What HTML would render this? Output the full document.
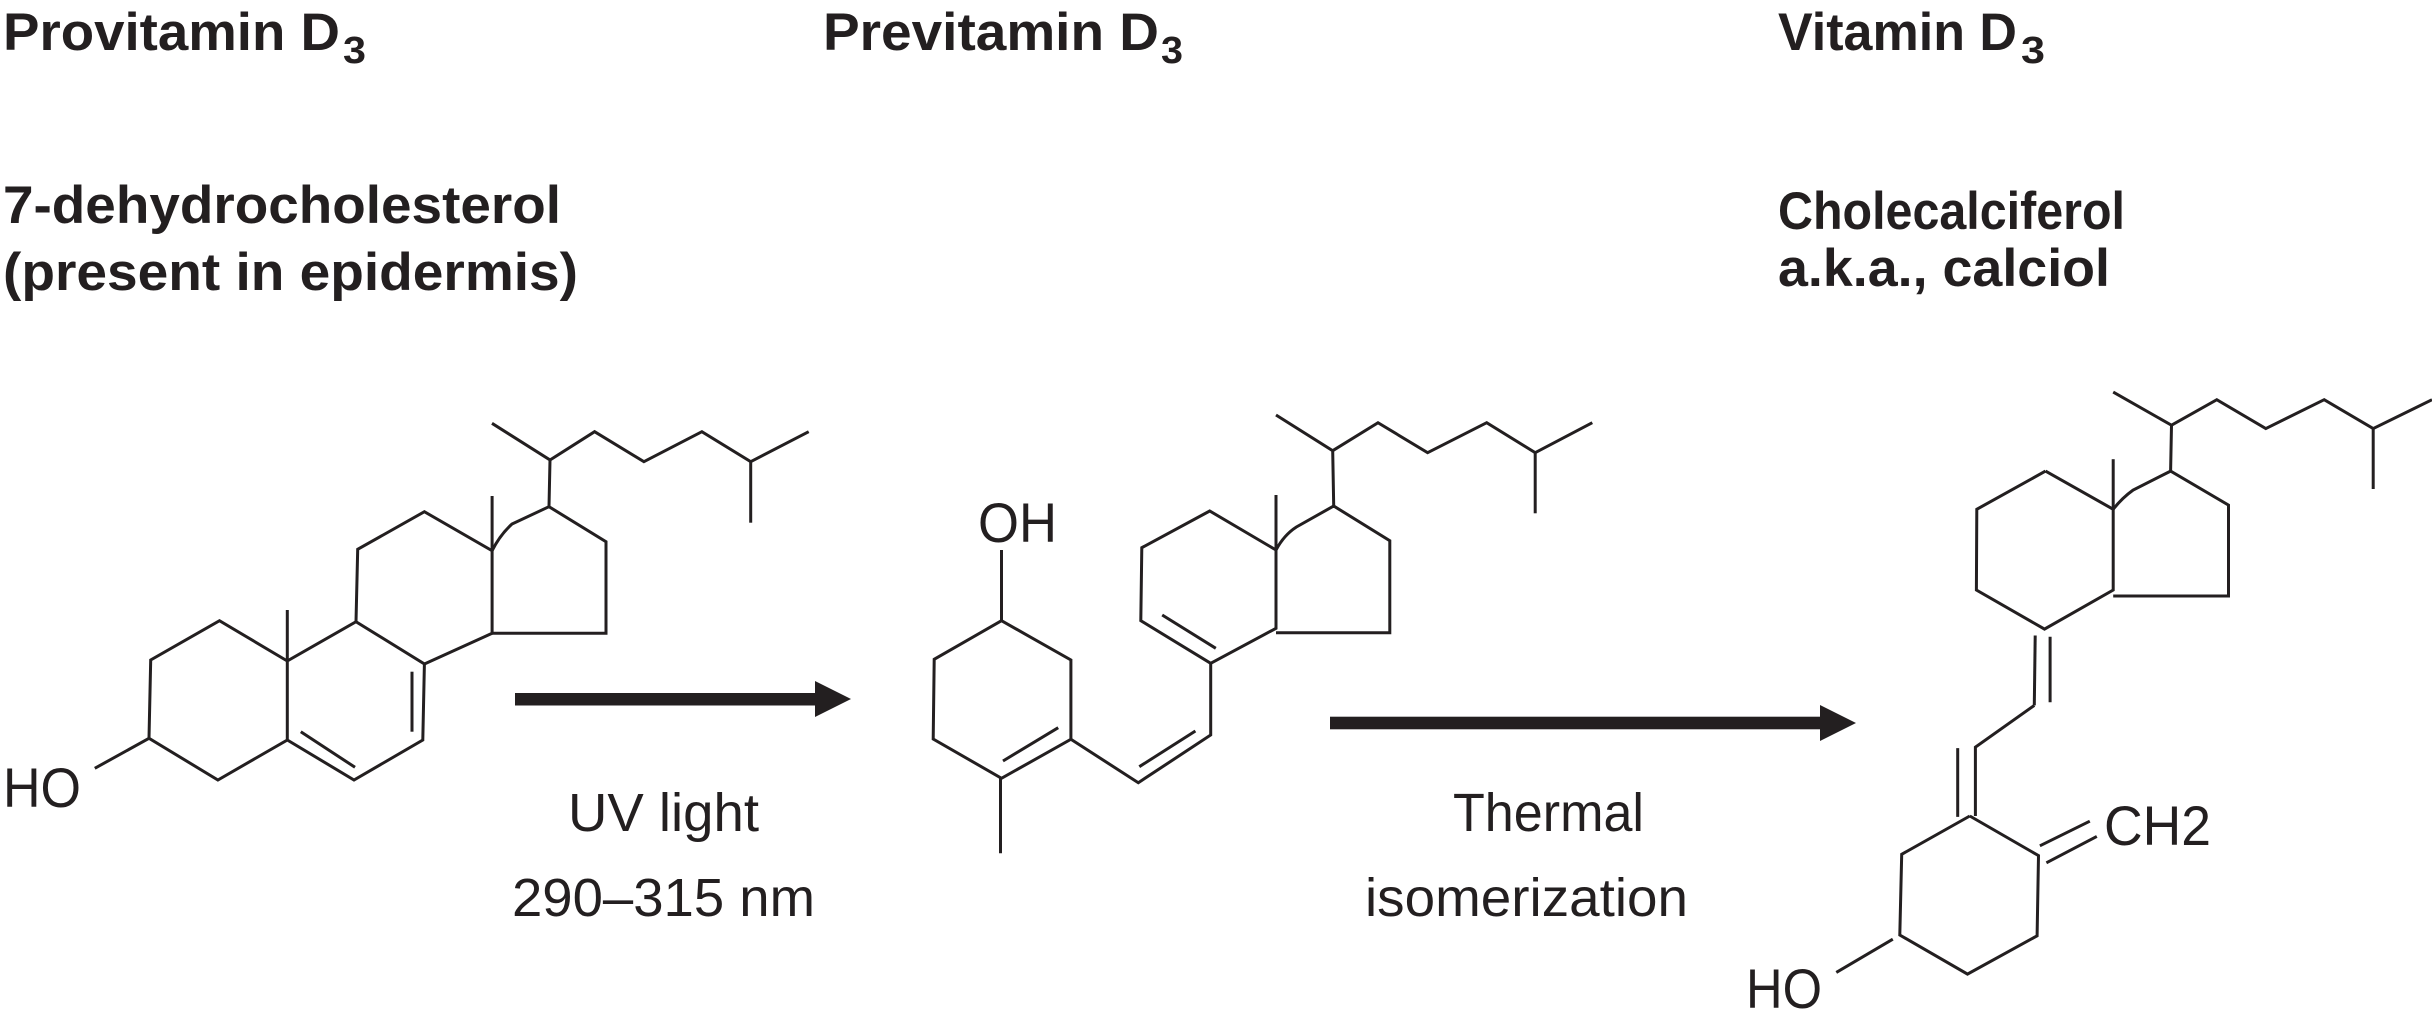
<!DOCTYPE html>
<html><head><meta charset="utf-8"><style>
html,body{margin:0;padding:0;background:#fff;}
svg{display:block;}
.b{font-family:"Liberation Sans",sans-serif;font-weight:bold;fill:#231f20;}
.r{font-family:"Liberation Sans",sans-serif;fill:#231f20;}
</style></head><body>
<svg width="2432" height="1035" viewBox="0 0 2432 1035" xmlns="http://www.w3.org/2000/svg">
<g class="b" font-size="53">
<text x="3" y="50" textLength="337" lengthAdjust="spacingAndGlyphs">Provitamin D</text>
<text x="343" y="63" font-size="38" textLength="23" lengthAdjust="spacingAndGlyphs">3</text>
<text x="823" y="50" textLength="336" lengthAdjust="spacingAndGlyphs">Previtamin D</text>
<text x="1161" y="63" font-size="38" textLength="22" lengthAdjust="spacingAndGlyphs">3</text>
<text x="1778" y="50" textLength="239" lengthAdjust="spacingAndGlyphs">Vitamin D</text>
<text x="2021" y="63" font-size="38" textLength="24" lengthAdjust="spacingAndGlyphs">3</text>
<text x="3" y="223" textLength="558" lengthAdjust="spacingAndGlyphs">7-dehydrocholesterol</text>
<text x="3" y="290" textLength="575" lengthAdjust="spacingAndGlyphs">(present in epidermis)</text>
<text x="1778" y="229" textLength="347" lengthAdjust="spacingAndGlyphs">Cholecalciferol</text>
<text x="1778" y="286" textLength="332" lengthAdjust="spacingAndGlyphs">a.k.a., calciol</text>
</g>
<g class="r" font-size="54">
<text x="568" y="831" textLength="191" lengthAdjust="spacingAndGlyphs">UV light</text>
<text x="512" y="916" textLength="303" lengthAdjust="spacingAndGlyphs">290–315 nm</text>
<text x="1453" y="831" textLength="191" lengthAdjust="spacingAndGlyphs">Thermal</text>
<text x="1365" y="916" textLength="323" lengthAdjust="spacingAndGlyphs">isomerization</text>
</g>
<g class="r" font-size="56">
<text x="3" y="807" textLength="78" lengthAdjust="spacingAndGlyphs">HO</text>
<text x="978" y="542" textLength="79" lengthAdjust="spacingAndGlyphs">OH</text>
<text x="1746" y="1008" textLength="76" lengthAdjust="spacingAndGlyphs">HO</text>
<text x="2104" y="845" textLength="107" lengthAdjust="spacingAndGlyphs">CH2</text>
</g>
<g fill="#231f20">
<rect x="515" y="693" width="302" height="12.5"/>
<polygon points="815,681 851,699 815,717"/>
<rect x="1330" y="716.7" width="492" height="12.6"/>
<polygon points="1820,705 1856,723 1820,741"/>
</g>
<g fill="none" stroke="#231f20" stroke-width="3" stroke-linejoin="miter" stroke-linecap="butt">
<polyline points="287.3,661 219.5,620.7 150.7,660 149,738.3 217.9,780 287.3,740 287.3,661 356,621.7 424.4,664 422.8,740 354,780 287.3,740"/>
<line x1="149" y1="738.3" x2="94.8" y2="768.3"/>
<line x1="287.3" y1="661" x2="287.3" y2="610"/>
<line x1="300.8" y1="731.7" x2="355" y2="767.3"/>
<line x1="412" y1="671.7" x2="412" y2="731.7"/>
<polyline points="356,621.7 357.7,549.3 424.4,511.7 492.1,550.7 492.1,633.3 424.4,664"/>
<line x1="492.1" y1="550.7" x2="492.1" y2="496"/>
<path d="M492.1,550.7 Q500,535 512,524 L549,506.7 L606,541.7 L606,633.3 L492.1,633.3"/>
<polyline points="549,506.7 550,460 492,423.3"/>
<polyline points="550,460 594.6,431.7 643.9,461.7 701.9,431.7 750.7,461.7 808.7,431.7"/>
<line x1="750.7" y1="461.7" x2="750.7" y2="522.7"/>
<line x1="1001.5" y1="550" x2="1001.5" y2="620.7"/>
<polyline points="1001.5,620.7 934.2,659.3 933.2,739 1001.5,778.3 1070.9,739.3 1070.9,660 1001.5,620.7"/>
<line x1="1003" y1="761" x2="1058.2" y2="727.7"/>
<line x1="1000.5" y1="778.3" x2="1000.5" y2="853.3"/>
<polyline points="1070.9,739.3 1138.3,782.7 1210.7,735 1210.7,663.3"/>
<line x1="1139.3" y1="766.7" x2="1195.4" y2="731"/>
<polyline points="1210.7,663.3 1140.8,620.7 1141.8,547.7 1209.7,511 1276,550 1276,628.3 1210.7,663.3"/>
<line x1="1162.2" y1="615" x2="1215.8" y2="648.3"/>
<line x1="1276" y1="550" x2="1276" y2="495"/>
<path d="M1276,550 Q1284,535 1296.4,527 L1333.7,506 L1389.8,540.7 L1389.8,632.7 L1276,632.7"/>
<polyline points="1333.7,506 1332.7,450.7 1276,415"/>
<polyline points="1332.7,450.7 1378,422.7 1427.6,452.7 1486.7,422.7 1535.2,452.7 1592.3,422.7"/>
<line x1="1535.2" y1="452.7" x2="1535.2" y2="513.3"/>
<polyline points="2045.5,471.1 1976.8,509.3 1976.4,590 2044.5,629.1 2113.2,590 2113.2,509.3 2045.5,471.1"/>
<line x1="2113.2" y1="509.3" x2="2113.2" y2="459.2"/>
<path d="M2113.2,509.3 Q2122,498 2133.2,490 L2170.6,471.1 L2228.5,505.1 L2228.5,596 L2113.2,596"/>
<polyline points="2170.6,471.1 2171.5,425.2 2113.2,392.1"/>
<polyline points="2171.5,425.2 2216.8,399.7 2265.8,428.6 2324.2,399.7 2373.2,428.6 2432,399.7"/>
<line x1="2373.2" y1="428.6" x2="2373.2" y2="489"/>
<line x1="2035.2" y1="635.5" x2="2034.3" y2="705.4"/>
<line x1="2050.1" y1="636.8" x2="2050.1" y2="702.2"/>
<polyline points="2034.3,705.4 1975.4,747.2 1975.4,816"/>
<line x1="1957.7" y1="748.1" x2="1957.7" y2="816.9"/>
<polyline points="1969.8,816 1901.7,854.3 1899.8,935 1967.5,974.1 2037.1,935.8 2038.5,855.6 1969.8,816"/>
<line x1="2039.9" y1="845.8" x2="2089.8" y2="821.2"/>
<line x1="2046.4" y1="862.8" x2="2096.8" y2="836.4"/>
<line x1="1892.8" y1="939.2" x2="1836.3" y2="972.4"/>
</g>
</svg>
</body></html>
